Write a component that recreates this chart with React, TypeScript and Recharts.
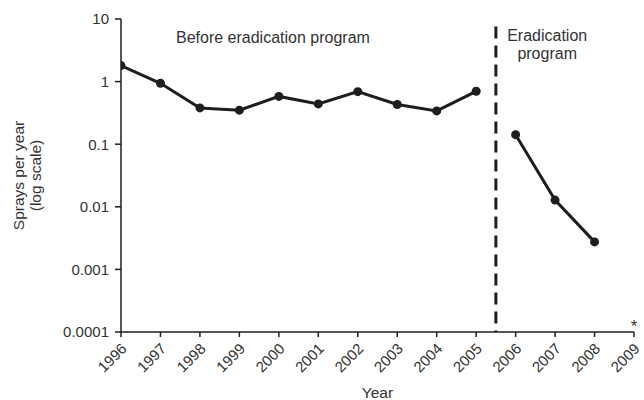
import React from 'react';
import { LineChart, Line, XAxis, YAxis, ReferenceLine, ReferenceDot, Label } from 'recharts';

const yearTicks = [1996, 1997, 1998, 1999, 2000, 2001, 2002, 2003, 2004, 2005, 2006, 2007, 2008, 2009];
const yTicks = [0.0001, 0.001, 0.01, 0.1, 1, 10];

const beforeYears = [1996, 1997, 1998, 1999, 2000, 2001, 2002, 2003, 2004, 2005];
const beforeSprays = [1.8, 0.94, 0.38, 0.35, 0.58, 0.44, 0.69, 0.43, 0.34, 0.7];

const afterYears = [2006, 2007, 2008];
const afterSprays = [0.142, 0.0128, 0.00275];

const beforeData = beforeYears.map((year, i) => ({ year, sprays: beforeSprays[i] }));
const afterData = afterYears.map((year, i) => ({ year, sprays: afterSprays[i] }));

const FONT = '"Liberation Sans", Arial, Helvetica, sans-serif';
const TEXT = '#333';
const INK = '#1e1e1e';

const XTick = (props: any) => {
  const { x, y, payload } = props;
  return (
    <g transform={`translate(${x + 3},${y + 7})`}>
      <text x={0} y={0} dy="0.35em" textAnchor="end" transform="rotate(-45)" fill={TEXT} fontSize={15} fontFamily={FONT}>
        {payload.value}
      </text>
    </g>
  );
};

const YLabel = (props: any) => {
  const vb = props.viewBox || {};
  const cy = (vb.y || 0) + (vb.height || 0) / 2;
  const cx = 28;
  return (
    <text transform={`translate(${cx},${cy}) rotate(-90)`} textAnchor="middle" fill={TEXT} fontSize={15.5} fontFamily={FONT}>
      <tspan x={0} dy="-0.25em">Sprays per year</tspan>
      <tspan x={0} dy="1.08em">(log scale)</tspan>
    </text>
  );
};

const XLabel = (props: any) => {
  const vb = props.viewBox || {};
  return (
    <text x={(vb.x || 0) + (vb.width || 0) / 2} y={(vb.y || 0) + 66} textAnchor="middle" fill={TEXT} fontSize={15.5} fontFamily={FONT}>
      Year
    </text>
  );
};

const makeAnno = (value: string, dy = 0, size = 16) => (props: any) => {
  const vb = props.viewBox || {};
  return (
    <text x={vb.x} y={vb.y} dy={dy} textAnchor="middle" dominantBaseline="central" fill={TEXT} fontSize={size} fontFamily={FONT}>
      {value}
    </text>
  );
};

export default function App() {
  return (
    <div style={{ position: 'absolute', left: 0, top: 0, background: '#fff' }}>
      <LineChart width={644} height={400} margin={{ top: 19, right: 10, left: 0, bottom: 0 }}>
        <XAxis
          type="number"
          dataKey="year"
          domain={[1996, 2009]}
          ticks={yearTicks}
          allowDataOverflow
          height={68}
          tick={<XTick />}
          tickSize={5}
          axisLine={{ stroke: INK, strokeWidth: 1.5 }}
          tickLine={{ stroke: INK, strokeWidth: 1.5 }}
          interval={0}
        >
          <Label content={<XLabel />} />
        </XAxis>
        <YAxis
          type="number"
          scale="log"
          domain={[0.0001, 10]}
          ticks={yTicks}
          allowDataOverflow
          width={121}
          tickSize={6}
          tickMargin={6}
          tickFormatter={(v: number) => String(v)}
          tick={{ fill: TEXT, fontSize: 15, fontFamily: FONT }}
          axisLine={{ stroke: INK, strokeWidth: 1.5 }}
          tickLine={{ stroke: INK, strokeWidth: 1.5 }}
          interval={0}
        >
          <Label content={<YLabel />} />
        </YAxis>
        <ReferenceLine
          segment={[{ x: 2005.5, y: 7.6 }, { x: 2005.5, y: 0.0001 }]}
          stroke={INK}
          strokeWidth={3}
          strokeDasharray="12 7"
          ifOverflow="visible"
        />
        <Line
          data={beforeData}
          dataKey="sprays"
          stroke={INK}
          strokeWidth={3}
          dot={{ r: 4.5, fill: INK, stroke: INK, strokeWidth: 0 }}
          isAnimationActive={false}
        />
        <Line
          data={afterData}
          dataKey="sprays"
          stroke={INK}
          strokeWidth={3}
          dot={{ r: 4.5, fill: INK, stroke: INK, strokeWidth: 0 }}
          isAnimationActive={false}
        />
        <ReferenceDot x={1999.85} y={5.06} r={0} fill="none" stroke="none" label={makeAnno('Before eradication program')} />
        <ReferenceDot x={2006.8} y={5.44} r={0} fill="none" stroke="none" label={makeAnno('Eradication')} />
        <ReferenceDot x={2006.8} y={2.8} r={0} fill="none" stroke="none" label={makeAnno('program')} />
        <ReferenceDot x={2009} y={0.0001} r={0} fill="none" stroke="none" ifOverflow="visible" label={makeAnno('*', -6, 17)} />
      </LineChart>
    </div>
  );
}
